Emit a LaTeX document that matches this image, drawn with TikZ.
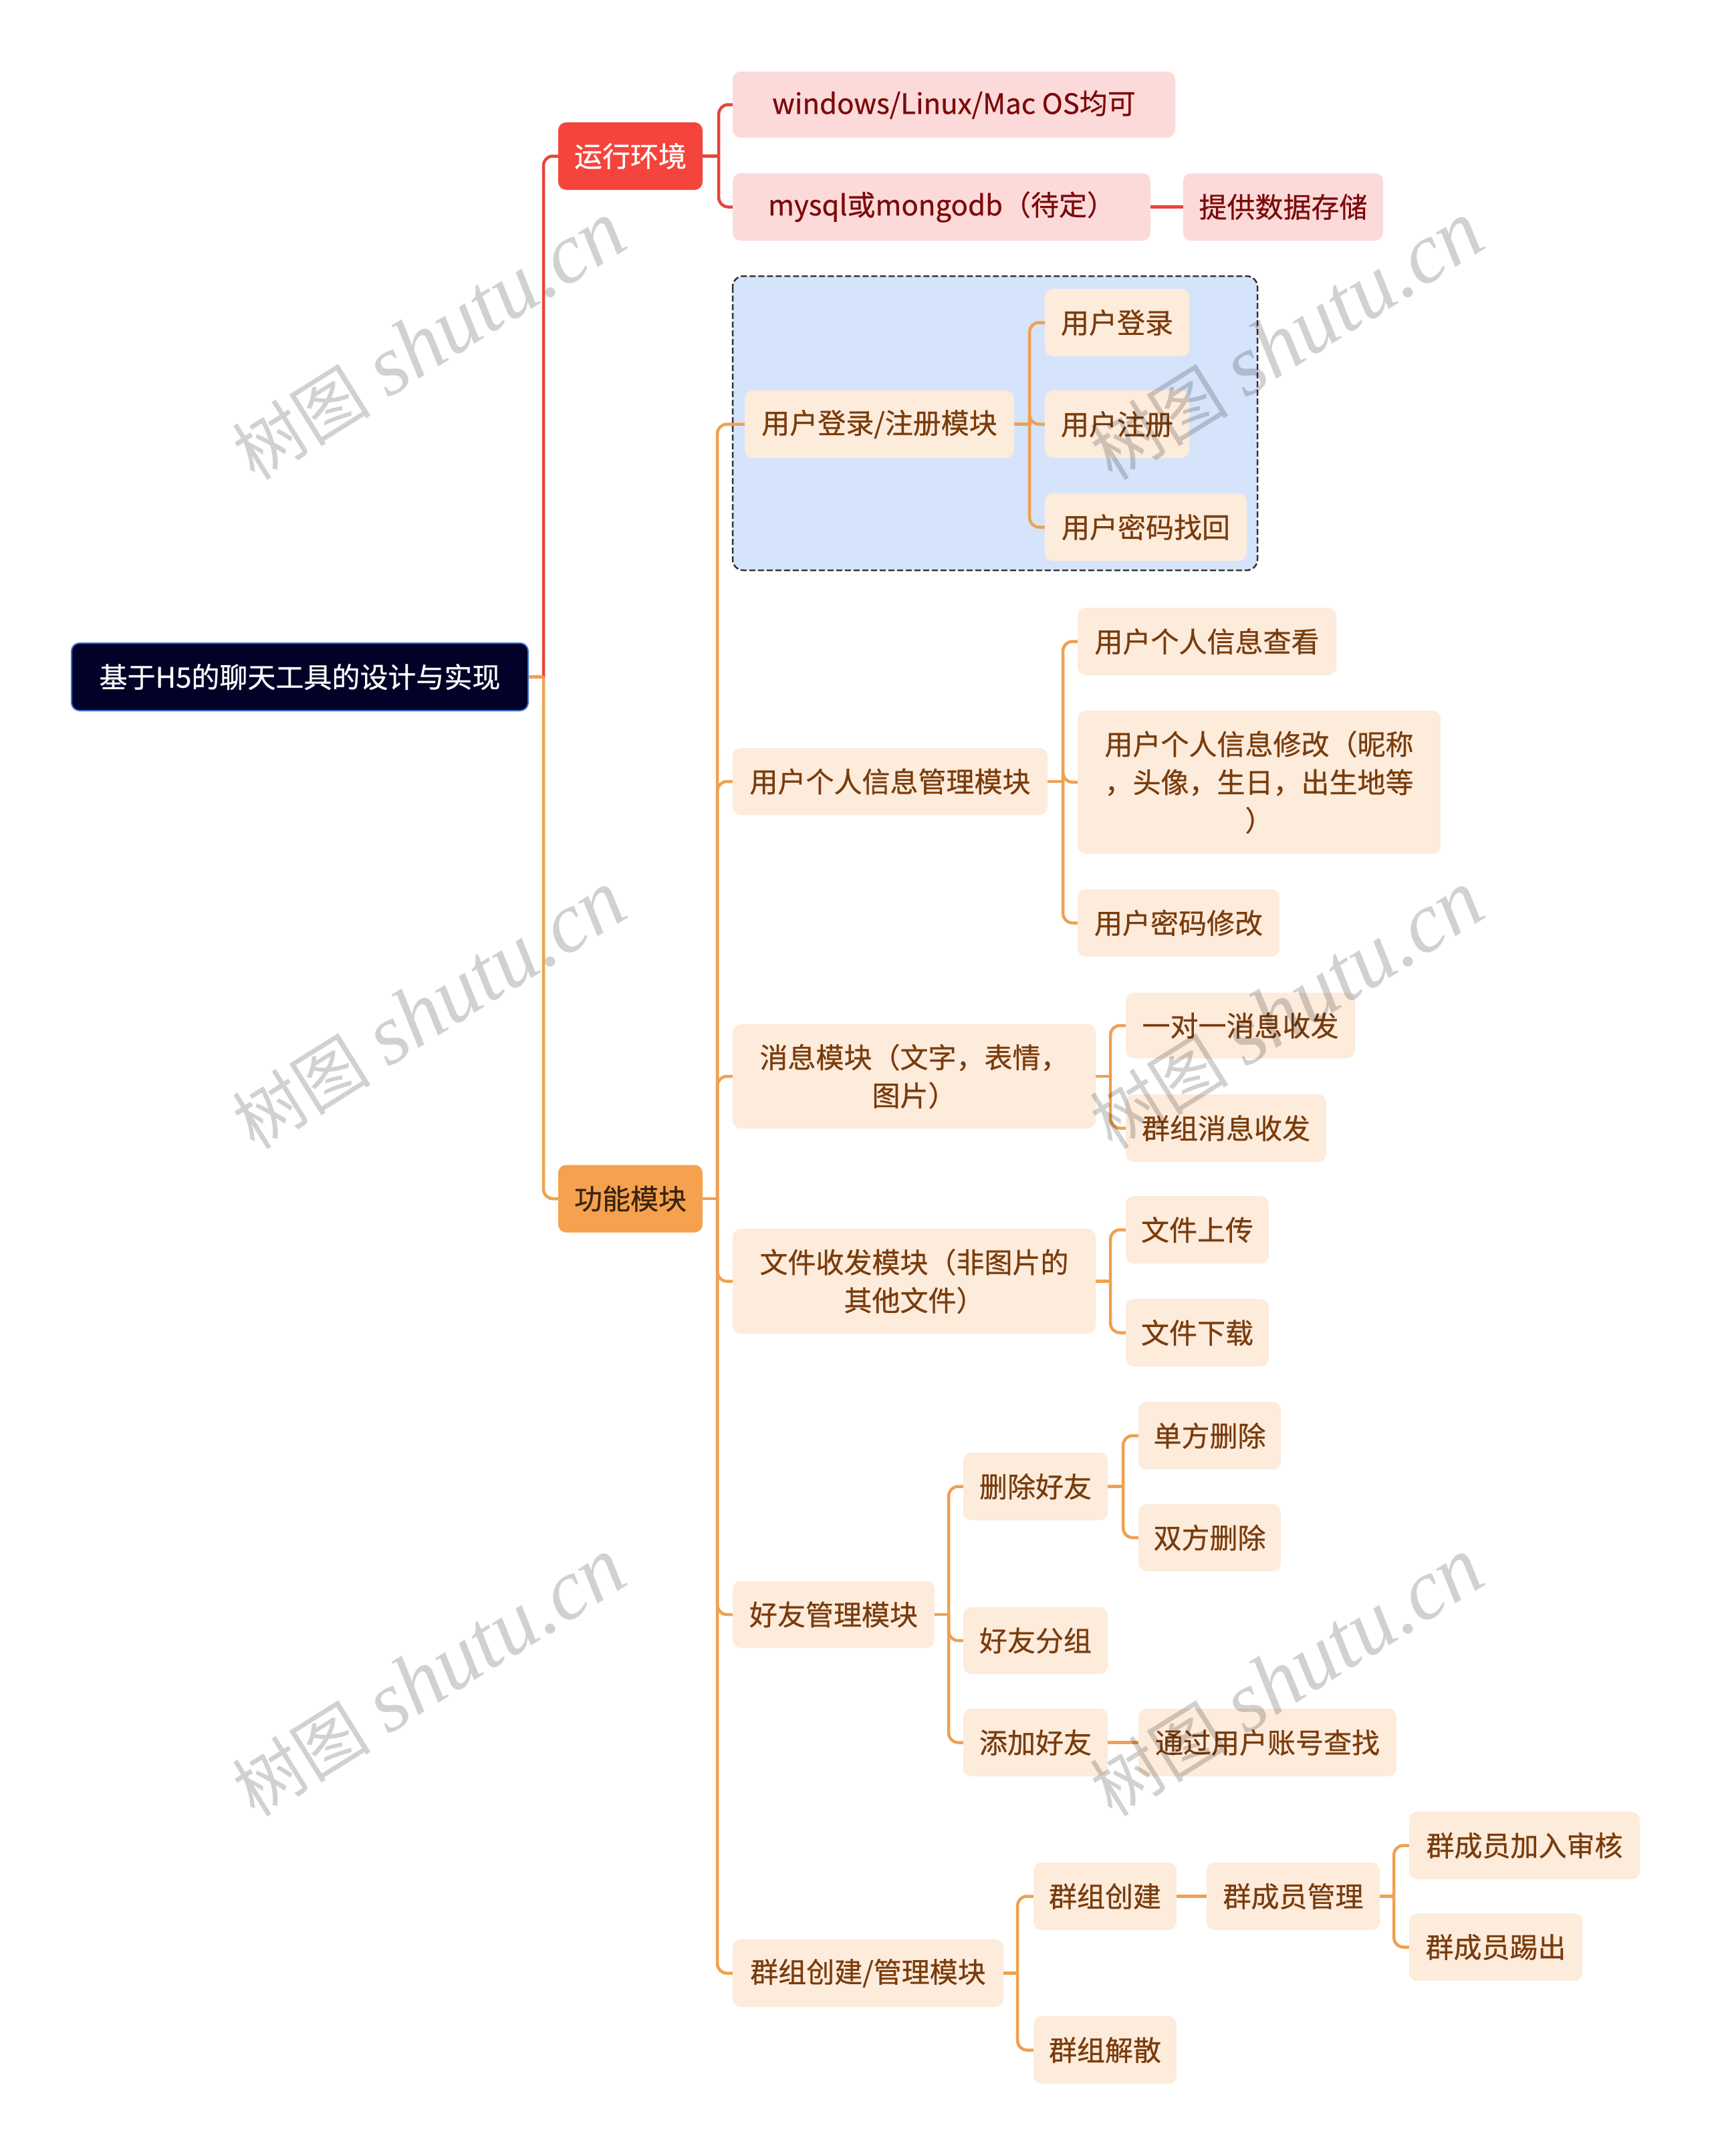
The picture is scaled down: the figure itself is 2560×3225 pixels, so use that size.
\documentclass[tikz,border=0pt]{standalone}
\usepackage{fontspec}
\setmainfont{Noto Sans CJK SC}[FakeBold=0.6]
\newfontfamily\wmcjk{Noto Sans CJK SC}
\newfontfamily\wmlatin{Liberation Serif}
\definecolor{rootfill}{HTML}{020228}
\definecolor{rootborder}{HTML}{3B6FD4}
\definecolor{envfill}{HTML}{F5443C}
\definecolor{funcfill}{HTML}{F5A14E}
\definecolor{functext}{HTML}{3A2410}
\definecolor{pinkfill}{HTML}{FDDADA}
\definecolor{pinktext}{HTML}{7D0A0A}
\definecolor{leaffill}{HTML}{FDEBDC}
\definecolor{leaftext}{HTML}{7A3C0C}
\definecolor{redl}{HTML}{E8443A}
\definecolor{orl}{HTML}{F0A050}
\definecolor{boxfill}{HTML}{D5E4FB}
\definecolor{boxline}{HTML}{333333}
\tikzset{
  base/.style={rounded corners=12pt, inner sep=0pt, align=center,
    font=\fontsize{42}{57}\selectfont},
  rootnode/.style={base, fill=rootfill, draw=rootborder, line width=2pt, text=white},
  envnode/.style={base, fill=envfill, text=white},
  funcnode/.style={base, fill=funcfill, text=functext},
  pinknode/.style={base, fill=pinkfill, text=pinktext},
  leafnode/.style={base, fill=leaffill, text=leaftext},
  redline/.style={draw=redl, line width=4.5pt, rounded corners=14pt},
  orline/.style={draw=orl, line width=4.5pt, rounded corners=14pt},
  groupbox/.style={draw=boxline, fill=boxfill, line width=2.5pt, dash pattern=on 9pt off 4pt, rounded corners=16pt},
  wm/.style={text=black, text opacity=0.18, rotate=32, inner sep=0pt},
}
\begin{document}
\begin{tikzpicture}[x=1pt, y=-1pt]
\useasboundingbox (0,0) rectangle (2560,3225);
\fill[white] (0,0) rectangle (2560,3225);

% dashed group box
\draw[groupbox] (1096,413) rectangle (1881,853);

% nodes
\node[rootnode, minimum width=683pt, minimum height=101pt] (root) at (448.5,1012.5) {基于H5的聊天工具的设计与实现};
\node[envnode, minimum width=216pt, minimum height=101pt] (env) at (943,233.5) {运行环境};
\node[funcnode, minimum width=216pt, minimum height=101pt] (func) at (943,1793) {功能模块};

\node[pinknode, minimum width=662pt, minimum height=99pt] (win) at (1427,156.5) {windows/Linux/Mac OS均可};
\node[pinknode, minimum width=625pt, minimum height=101pt] (db) at (1408.5,309.5) {mysql或mongodb（待定）};
\node[pinknode, minimum width=299pt, minimum height=101pt] (store) at (1919.5,309.5) {提供数据存储};

\node[leafnode, minimum width=403pt, minimum height=101pt] (loginmod) at (1315.5,634.5) {用户登录/注册模块};
\node[leafnode, minimum width=216pt, minimum height=101pt] (login) at (1671,482.5) {用户登录};
\node[leafnode, minimum width=216pt, minimum height=101pt] (reg) at (1671,634.5) {用户注册};
\node[leafnode, minimum width=302pt, minimum height=101pt] (pwdfind) at (1714,788.5) {用户密码找回};

\node[leafnode, minimum width=471pt, minimum height=100pt] (infomod) at (1331.5,1169) {用户个人信息管理模块};
\node[leafnode, minimum width=387pt, minimum height=101pt] (infoview) at (1805.5,959.5) {用户个人信息查看};
\node[leafnode, minimum width=543pt, minimum height=214pt] (infoedit) at (1883.5,1170) {用户个人信息修改（昵称\\，头像，生日，出生地等\\）};
\node[leafnode, minimum width=302pt, minimum height=101pt] (pwdedit) at (1763,1380.5) {用户密码修改};

\node[leafnode, minimum width=543pt, minimum height=156pt] (msgmod) at (1367.5,1610) {消息模块（文字，表情，\\图片）};
\node[leafnode, minimum width=343pt, minimum height=98pt] (one) at (1855.5,1534) {一对一消息收发};
\node[leafnode, minimum width=300pt, minimum height=101pt] (grpmsg) at (1834,1687.5) {群组消息收发};

\node[leafnode, minimum width=543pt, minimum height=157pt] (filemod) at (1367.5,1916.5) {文件收发模块（非图片的\\其他文件）};
\node[leafnode, minimum width=214pt, minimum height=101pt] (up) at (1791,1839.5) {文件上传};
\node[leafnode, minimum width=214pt, minimum height=101pt] (down) at (1791,1993.5) {文件下载};

\node[leafnode, minimum width=302pt, minimum height=100pt] (friendmod) at (1247,2415) {好友管理模块};
\node[leafnode, minimum width=216pt, minimum height=101pt] (delf) at (1549,2223.5) {删除好友};
\node[leafnode, minimum width=213pt, minimum height=101pt] (single) at (1809.5,2147.5) {单方删除};
\node[leafnode, minimum width=213pt, minimum height=100pt] (both) at (1809.5,2300) {双方删除};
\node[leafnode, minimum width=216pt, minimum height=100pt] (fgroup) at (1549,2454) {好友分组};
\node[leafnode, minimum width=216pt, minimum height=101pt] (addf) at (1549,2606.5) {添加好友};
\node[leafnode, minimum width=386pt, minimum height=101pt] (search) at (1896,2606.5) {通过用户账号查找};

\node[leafnode, minimum width=405pt, minimum height=101pt] (grpmod) at (1298.5,2951.5) {群组创建/管理模块};
\node[leafnode, minimum width=214pt, minimum height=101pt] (gcreate) at (1653,2836.5) {群组创建};
\node[leafnode, minimum width=259pt, minimum height=101pt] (mmgmt) at (1934.5,2836.5) {群成员管理};
\node[leafnode, minimum width=345pt, minimum height=101pt] (mjoin) at (2280.5,2760.5) {群成员加入审核};
\node[leafnode, minimum width=259pt, minimum height=101pt] (mkick) at (2237.5,2912.5) {群成员踢出};
\node[leafnode, minimum width=214pt, minimum height=101pt] (gdis) at (1653,3066.5) {群组解散};

% connectors
\draw[redline] (root.east) ++(22,0) |- (env.west);
\draw[orline] (root.east) -- ++(22,0);
\draw[orline] (root.east) ++(22,0) |- (func.west);

\draw[redline] (env.east) -- ++(24,0);
\foreach \c in {win,db} {\draw[redline] (env.east) ++(24,0) |- (\c.west);}
\draw[redline] (db.east) -- (store.west);

\draw[orline] (func.east) -- ++(22,0);
\foreach \c in {loginmod,infomod,msgmod,filemod,friendmod,grpmod} {\draw[orline] (func.east) ++(22,0) |- (\c.west);}

\draw[orline] (loginmod.east) -- ++(23,0);
\foreach \c in {login,reg,pwdfind} {\draw[orline] (loginmod.east) ++(23,0) |- (\c.west);}

\draw[orline] (infomod.east) -- ++(23,0);
\foreach \c in {infoview,infoedit,pwdedit} {\draw[orline] (infomod.east) ++(23,0) |- (\c.west);}

\draw[orline] (msgmod.east) -- ++(22,0);
\foreach \c in {one,grpmsg} {\draw[orline] (msgmod.east) ++(22,0) |- (\c.west);}

\draw[orline] (filemod.east) -- ++(22,0);
\foreach \c in {up,down} {\draw[orline] (filemod.east) ++(22,0) |- (\c.west);}

\draw[orline] (friendmod.east) -- ++(21,0);
\foreach \c in {delf,fgroup,addf} {\draw[orline] (friendmod.east) ++(21,0) |- (\c.west);}

\draw[orline] (delf.east) -- ++(23,0);
\foreach \c in {single,both} {\draw[orline] (delf.east) ++(23,0) |- (\c.west);}
\draw[orline] (addf.east) -- (search.west);

\draw[orline] (grpmod.east) -- ++(21,0);
\foreach \c in {gcreate,gdis} {\draw[orline] (grpmod.east) ++(21,0) |- (\c.west);}
\draw[orline] (gcreate.east) -- (mmgmt.west);
\draw[orline] (mmgmt.east) -- ++(21,0);
\foreach \c in {mjoin,mkick} {\draw[orline] (mmgmt.east) ++(21,0) |- (\c.west);}

% watermarks
\foreach \p [count=\i] in {(642,510),(642,1511),(642,2509),(1925,510),(1925,1511),(1925,2509)} {
  \node[wm] (wm\i) at \p {\wmcjk\fontsize{104}{104}\selectfont 树图\hspace{0.25em}\wmlatin\itshape\fontsize{128}{128}\selectfont shutu.cn};
}
\end{tikzpicture}
\end{document}
